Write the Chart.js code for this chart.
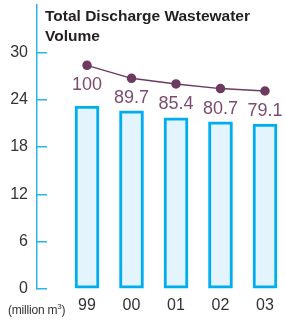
<!DOCTYPE html>
<html>
<head>
<meta charset="utf-8">
<script src="https://cdn.jsdelivr.net/npm/chart.js@4"></script>
<style>
  body { margin: 0; background: #fff; }
  #wrap { position: relative; width: 285px; height: 321px; }
  #title { position: absolute; left: 45px; top: 6px; font: bold 15.5px "Liberation Sans", Arial, sans-serif; line-height: 20px; color: #231f20; }
  #unit { position: absolute; left: 8px; top: 302px; font: 12px "Liberation Sans", Arial, sans-serif; color: #333; letter-spacing: -0.2px; }
  #unit sup { font-size: 8px; }
</style>
</head>
<body>
<div id="wrap">
  <canvas id="chart" width="285" height="321"></canvas>
  <div id="title">Total Discharge Wastewater<br>Volume</div>
  <div id="unit">(million m<sup>3</sup>)</div>
</div>
<script>
// years (x axis)
const categories = ["99", "00", "01", "02", "03"];
// discharge volume, million m3 (bars)
const volumes = [23.2, 22.6, 21.7, 21.2, 20.9];
// index line (plotted on the same axis)
const indexLine = [28.35, 26.7, 26.0, 25.4, 25.1];
const indexLabels = ["100", "89.7", "85.4", "80.7", "79.1"];
// y axis ticks
const yTicks = [0, 6, 12, 18, 24, 30];

const axisColor = "#29b5e8";

// no extra label padding around the plot
function noPadding(scale) {
    scale.paddingTop = 0;
    scale.paddingBottom = 0;
    scale.paddingLeft = 0;
    scale.paddingRight = 0;
}

// draw index numbers under each line point
const indexLabelPlugin = {
    id: "indexLabels",
    afterDatasetsDraw(chart) {
        const ctx = chart.ctx;
        const meta = chart.getDatasetMeta(1);
        ctx.save();
        ctx.font = '18px "Liberation Sans", Arial, sans-serif';
        ctx.fillStyle = "#7b4c70";
        ctx.textAlign = "center";
        ctx.textBaseline = "middle";
        meta.data.forEach((pt, i) => {
            ctx.fillText(indexLabels[i], pt.x, pt.y + 20);
        });
        ctx.restore();
    }
};

new Chart(document.getElementById("chart"), {
    type: "bar",
    data: {
        datasets: [{
            type: "bar",
            data: volumes.map((v, i) => ({ x: i, y: v })),
            backgroundColor: "#e3f4fc",
            borderColor: "#00aeef",
            borderWidth: 3,
            borderSkipped: false,
            barThickness: 24,
            order: 2
        }, {
            type: "line",
            data: indexLine.map((v, i) => ({ x: i, y: v })),
            borderColor: "#6d3a60",
            borderWidth: 1.5,
            pointBackgroundColor: "#6d3a60",
            pointBorderColor: "#6d3a60",
            pointRadius: 4,
            clip: false,
            order: 1
        }]
    },
    options: {
        responsive: false,
        animation: false,
        layout: { autoPadding: false, padding: { top: 5, left: 0, right: 0, bottom: 0 } },
        plugins: { legend: { display: false }, tooltip: { enabled: false } },
        scales: {
            x: {
                type: "linear",
                offset: false,
                min: -1.124,
                max: 4.45,
                afterBuildTicks: (scale) => { scale.ticks = categories.map((c, i) => ({ value: i })); },
                afterFit: (scale) => { scale.height = 32; noPadding(scale); },
                grid: { display: false, offset: false },
                border: { display: false },
                ticks: {
                    callback: (v) => categories[v],
                    color: "#333",
                    font: { family: '"Liberation Sans", Arial, sans-serif', size: 16 },
                    padding: -1,
                    maxRotation: 0
                }
            },
            y: {
                min: 0,
                max: 36,
                afterBuildTicks: (scale) => { scale.ticks = yTicks.map(v => ({ value: v })); },
                afterFit: (scale) => { scale.width = 37; noPadding(scale); },
                grid: {
                    drawOnChartArea: false,
                    color: axisColor,
                    lineWidth: 1.5,
                    tickLength: -10
                },
                border: { color: axisColor, width: 1.5 },
                ticks: {
                    color: "#333",
                    font: { family: '"Liberation Sans", Arial, sans-serif', size: 16 },
                    padding: 19
                }
            }
        }
    },
    plugins: [indexLabelPlugin]
});
</script>
</body>
</html>
